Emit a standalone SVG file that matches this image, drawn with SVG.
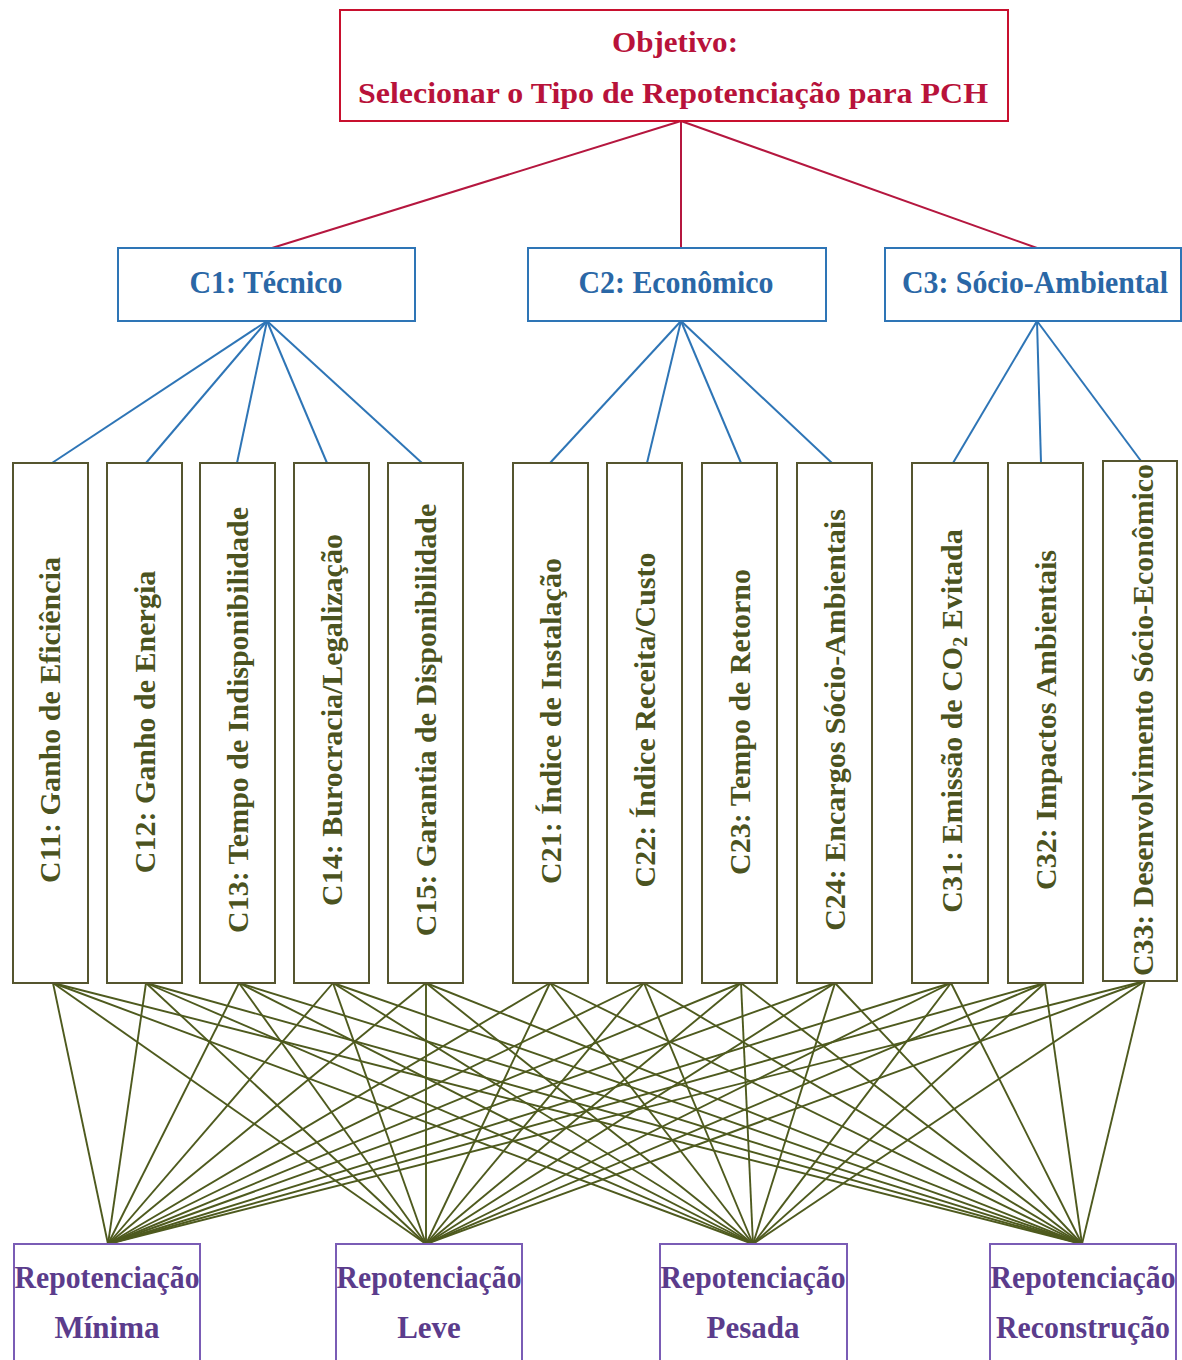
<svg xmlns="http://www.w3.org/2000/svg" width="1182" height="1360" viewBox="0 0 1182 1360">
  <style>
    text { font-family: "Liberation Serif", "Times New Roman", serif; font-weight: bold; font-size: 30px; text-anchor: middle; }
    .goal rect { fill: #fff; stroke: #C8102E; stroke-width: 2; }
    .goal text { fill: #B8123A; }
    .crit rect { fill: #fff; stroke: #2E75B6; stroke-width: 2; }
    .crit text { fill: #2A67A6; font-size: 31px; }
    .sub rect { fill: #fff; stroke: #55552F; stroke-width: 2; }
    .sub text { fill: #4B5320; }
    .alt rect { fill: #fff; stroke: #7A5CB5; stroke-width: 2; }
    .alt text { fill: #5B3C8C; font-size: 31px; }
    .l-goal line { stroke: #B5173F; stroke-width: 2; }
    .l-crit line { stroke: #2E75B6; stroke-width: 2; }
    .l-alt line { stroke: #4E5A1E; stroke-width: 1.9; }
  </style>

  <rect width="1182" height="1360" fill="#fff"/>

  <!-- connectors -->
  <g id="connectors">
    <g class="l-goal">
      <line x1="681" y1="121" x2="272" y2="248"/>
      <line x1="681" y1="121" x2="681" y2="248"/>
      <line x1="681" y1="121" x2="1037" y2="248"/>
    </g>
    <g class="l-crit">
      <line x1="267" y1="321" x2="52" y2="463"/>
      <line x1="267" y1="321" x2="146" y2="463"/>
      <line x1="267" y1="321" x2="237" y2="463"/>
      <line x1="267" y1="321" x2="327" y2="463"/>
      <line x1="267" y1="321" x2="422" y2="463"/>
      <line x1="681" y1="321" x2="550" y2="463"/>
      <line x1="681" y1="321" x2="647" y2="463"/>
      <line x1="681" y1="321" x2="741" y2="463"/>
      <line x1="681" y1="321" x2="832" y2="463"/>
      <line x1="1037" y1="321" x2="953" y2="463"/>
      <line x1="1037" y1="321" x2="1041" y2="463"/>
      <line x1="1037" y1="321" x2="1141" y2="461"/>
    </g>
    <g class="l-alt">
      <!-- C11 -->
      <line x1="53" y1="983" x2="108" y2="1244"/>
      <line x1="53" y1="983" x2="426" y2="1244"/>
      <line x1="53" y1="983" x2="753" y2="1244"/>
      <line x1="53" y1="983" x2="1082" y2="1244"/>
      <!-- C12 -->
      <line x1="146" y1="983" x2="108" y2="1244"/>
      <line x1="146" y1="983" x2="426" y2="1244"/>
      <line x1="146" y1="983" x2="753" y2="1244"/>
      <line x1="146" y1="983" x2="1082" y2="1244"/>
      <!-- C13 -->
      <line x1="239" y1="983" x2="108" y2="1244"/>
      <line x1="239" y1="983" x2="426" y2="1244"/>
      <line x1="239" y1="983" x2="753" y2="1244"/>
      <line x1="239" y1="983" x2="1082" y2="1244"/>
      <!-- C14 -->
      <line x1="333" y1="983" x2="108" y2="1244"/>
      <line x1="333" y1="983" x2="426" y2="1244"/>
      <line x1="333" y1="983" x2="753" y2="1244"/>
      <line x1="333" y1="983" x2="1082" y2="1244"/>
      <!-- C15 -->
      <line x1="426" y1="983" x2="108" y2="1244"/>
      <line x1="426" y1="983" x2="426" y2="1244"/>
      <line x1="426" y1="983" x2="753" y2="1244"/>
      <line x1="426" y1="983" x2="1082" y2="1244"/>
      <!-- C21 -->
      <line x1="550" y1="983" x2="108" y2="1244"/>
      <line x1="550" y1="983" x2="426" y2="1244"/>
      <line x1="550" y1="983" x2="753" y2="1244"/>
      <line x1="550" y1="983" x2="1082" y2="1244"/>
      <!-- C22 -->
      <line x1="644" y1="983" x2="108" y2="1244"/>
      <line x1="644" y1="983" x2="426" y2="1244"/>
      <line x1="644" y1="983" x2="753" y2="1244"/>
      <line x1="644" y1="983" x2="1082" y2="1244"/>
      <!-- C23 -->
      <line x1="741" y1="983" x2="108" y2="1244"/>
      <line x1="741" y1="983" x2="426" y2="1244"/>
      <line x1="741" y1="983" x2="753" y2="1244"/>
      <line x1="741" y1="983" x2="1082" y2="1244"/>
      <!-- C24 -->
      <line x1="835" y1="983" x2="108" y2="1244"/>
      <line x1="835" y1="983" x2="426" y2="1244"/>
      <line x1="835" y1="983" x2="753" y2="1244"/>
      <line x1="835" y1="983" x2="1082" y2="1244"/>
      <!-- C31 -->
      <line x1="951" y1="983" x2="108" y2="1244"/>
      <line x1="951" y1="983" x2="426" y2="1244"/>
      <line x1="951" y1="983" x2="753" y2="1244"/>
      <line x1="951" y1="983" x2="1082" y2="1244"/>
      <!-- C32 -->
      <line x1="1045" y1="983" x2="108" y2="1244"/>
      <line x1="1045" y1="983" x2="426" y2="1244"/>
      <line x1="1045" y1="983" x2="753" y2="1244"/>
      <line x1="1045" y1="983" x2="1082" y2="1244"/>
      <!-- C33 -->
      <line x1="1145" y1="981" x2="108" y2="1244"/>
      <line x1="1145" y1="981" x2="426" y2="1244"/>
      <line x1="1145" y1="981" x2="753" y2="1244"/>
      <line x1="1145" y1="981" x2="1082" y2="1244"/>
    </g>
  </g>

  <!-- goal -->
  <g id="goal" class="goal">
    <rect x="340" y="10" width="668" height="111"/>
    <text x="675" y="52" font-size="32" textLength="126" lengthAdjust="spacingAndGlyphs">Objetivo:</text>
    <text x="673" y="103" font-size="33" textLength="630" lengthAdjust="spacingAndGlyphs">Selecionar o Tipo de Repotenciação para PCH</text>
  </g>

  <!-- criteria -->
  <g id="c1" class="crit">
    <rect x="118" y="248" width="297" height="73"/>
    <text x="266" y="293" textLength="153" lengthAdjust="spacingAndGlyphs">C1: Técnico</text>
  </g>
  <g id="c2" class="crit">
    <rect x="528" y="248" width="298" height="73"/>
    <text x="676" y="293" textLength="195" lengthAdjust="spacingAndGlyphs">C2: Econômico</text>
  </g>
  <g id="c3" class="crit">
    <rect x="885" y="248" width="296" height="73"/>
    <text x="1035" y="293" textLength="266" lengthAdjust="spacingAndGlyphs">C3: Sócio-Ambiental</text>
  </g>

  <!-- sub-criteria -->
  <g id="c11" class="sub">
    <rect x="13" y="463" width="75" height="520"/>
    <text transform="translate(60 720) rotate(-90)">C11: Ganho de Eficiência</text>
  </g>
  <g id="c12" class="sub">
    <rect x="107" y="463" width="75" height="520"/>
    <text transform="translate(155 722) rotate(-90)">C12: Ganho de Energia</text>
  </g>
  <g id="c13" class="sub">
    <rect x="200" y="463" width="75" height="520"/>
    <text transform="translate(248 720) rotate(-90)">C13: Tempo de Indisponibilidade</text>
  </g>
  <g id="c14" class="sub">
    <rect x="294" y="463" width="75" height="520"/>
    <text transform="translate(342 720) rotate(-90)">C14: Burocracia/Legalização</text>
  </g>
  <g id="c15" class="sub">
    <rect x="388" y="463" width="75" height="520"/>
    <text transform="translate(436 720) rotate(-90)">C15: Garantia de Disponibilidade</text>
  </g>
  <g id="c21" class="sub">
    <rect x="513" y="463" width="75" height="520"/>
    <text transform="translate(561 721) rotate(-90)">C21: Índice de Instalação</text>
  </g>
  <g id="c22" class="sub">
    <rect x="607" y="463" width="75" height="520"/>
    <text transform="translate(655 720) rotate(-90)">C22: Índice Receita/Custo</text>
  </g>
  <g id="c23" class="sub">
    <rect x="702" y="463" width="75" height="520"/>
    <text transform="translate(750 722) rotate(-90)">C23: Tempo de Retorno</text>
  </g>
  <g id="c24" class="sub">
    <rect x="797" y="463" width="75" height="520"/>
    <text transform="translate(845 720) rotate(-90)">C24: Encargos Sócio-Ambientais</text>
  </g>
  <g id="c31" class="sub">
    <rect x="912" y="463" width="76" height="520"/>
    <text transform="translate(962 721) rotate(-90)">C31: Emissão de CO<tspan font-size="20" dy="5">2</tspan><tspan dy="-5"> Evitada</tspan></text>
  </g>
  <g id="c32" class="sub">
    <rect x="1008" y="463" width="75" height="520"/>
    <text transform="translate(1056 720) rotate(-90)">C32: Impactos Ambientais</text>
  </g>
  <g id="c33" class="sub">
    <rect x="1103" y="461" width="74" height="520"/>
    <text transform="translate(1153 720) rotate(-90)" textLength="512" lengthAdjust="spacingAndGlyphs">C33: Desenvolvimento Sócio-Econômico</text>
  </g>

  <!-- alternatives -->
  <g id="a1" class="alt">
    <rect x="14" y="1244" width="186" height="122"/>
    <text x="107" y="1288" textLength="185" lengthAdjust="spacingAndGlyphs">Repotenciação</text>
    <text x="107" y="1338">Mínima</text>
  </g>
  <g id="a2" class="alt">
    <rect x="336" y="1244" width="186" height="122"/>
    <text x="429" y="1288" textLength="185" lengthAdjust="spacingAndGlyphs">Repotenciação</text>
    <text x="429" y="1338">Leve</text>
  </g>
  <g id="a3" class="alt">
    <rect x="660" y="1244" width="187" height="122"/>
    <text x="753" y="1288" textLength="185" lengthAdjust="spacingAndGlyphs">Repotenciação</text>
    <text x="753" y="1338">Pesada</text>
  </g>
  <g id="a4" class="alt">
    <rect x="990" y="1244" width="186" height="122"/>
    <text x="1083" y="1288" textLength="185" lengthAdjust="spacingAndGlyphs">Repotenciação</text>
    <text x="1083" y="1338" textLength="174" lengthAdjust="spacingAndGlyphs">Reconstrução</text>
  </g>
</svg>
